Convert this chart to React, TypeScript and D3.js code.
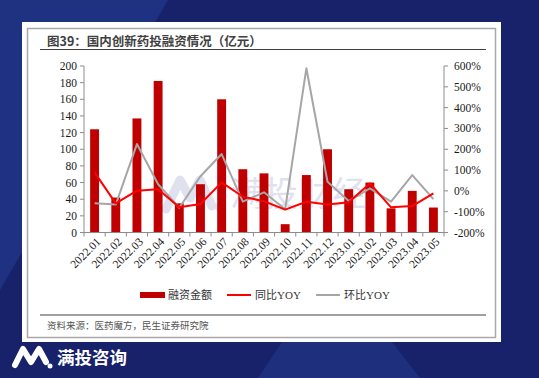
import { useMemo } from "react";
import * as d3 from "d3";

// 国内创新药投融资情况（亿元）
const months = [
  "2022.01", "2022.02", "2022.03", "2022.04", "2022.05", "2022.06",
  "2022.07", "2022.08", "2022.09", "2022.10", "2022.11", "2022.12",
  "2023.01", "2023.02", "2023.03", "2023.04", "2023.05",
];
const amount = [124, 42, 137, 182, 35, 58, 160, 76, 71, 10, 69, 100, 52, 60, 29, 50, 30];
const yoy = [89, -60, 1, 8, -79, -63, 41, -28, -50, -90, -52, -65, -55, 36, -79, -73, -12];
const mom = [-60, -66, 225, 32, -81, 70, 177, -52, -7, -88, 589, 44, -49, 12, -52, 76, -40];

const leftTicks = [0, 20, 40, 60, 80, 100, 120, 140, 160, 180, 200];
const rightTicks = [-200, -100, 0, 100, 200, 300, 400, 500, 600];

const W = 539;
const H = 378;
const plot = { left: 84, right: 444, top: 66, bottom: 232.5 };

const serif = "'Liberation Serif', 'Times New Roman', serif";
const cjk = "'Noto Sans CJK SC', 'Noto Sans', sans-serif";
const axisColor = "#8c8c8c";

export default function App() {
  const x = useMemo(
    () => d3.scaleBand<string>().domain(months).range([plot.left, plot.right]).paddingInner(0.58).paddingOuter(0.29),
    []
  );
  const band = useMemo(
    () => d3.scaleBand<string>().domain(months).range([plot.left, plot.right]),
    []
  );
  const yL = d3.scaleLinear().domain([0, 200]).range([plot.bottom, plot.top]);
  const yR = d3.scaleLinear().domain([-200, 600]).range([plot.bottom, plot.top]);

  const cx = (m: string) => (band(m) ?? 0) + band.bandwidth() / 2;
  const line = d3
    .line<number>()
    .x((_, i) => cx(months[i]))
    .y((d) => yR(d));

  // boundaries between categories for x ticks
  const xTicks = d3.range(months.length + 1).map((i) => plot.left + i * band.step());

  return (
    <svg
      width={W}
      height={H}
      style={{ position: "absolute", left: 0, top: 0, display: "block" }}
    >
      {/* background */}
      <rect x={0} y={0} width={W} height={H} fill="#17226a" />
      <polygon points="0,0 168,0 0,290" fill="#1f3282" />
      <polygon points="282,342 392,342 420,378 258,378" fill="#1e2f7e" />

      {/* card */}
      <rect x={22} y={22} width={479} height={320} fill="#ffffff" />
      <rect x={27.5} y={28.5} width={468} height={309} fill="none" stroke="#a8a8a8" strokeWidth={1.5} />

      {/* title */}
      <text x={47} y={46} fontFamily={cjk} fontSize={12.5} fontWeight="bold" fill="#404040">
        图39：国内创新药投融资情况（亿元）
      </text>
      <line x1={40} x2={486} y1={49.5} y2={49.5} stroke="#404040" strokeWidth={1.2} />

      {/* watermark */}
      <g opacity={0.5} fill="#c3c5e0">
        <path
          d="M166,209 L180,180 L190,198 L200,180 L212,206"
          fill="none"
          stroke="#c3c5e0"
          strokeWidth={9}
          strokeLinecap="round"
          strokeLinejoin="round"
        />
        <circle cx={219} cy={207} r={4} />
        <text x={230} y={206} fontFamily={cjk} fontSize={34}>
          满投财经
        </text>
      </g>

      {/* bars */}
      {months.map((m, i) => (
        <rect
          key={m}
          x={x(m)}
          y={yL(amount[i])}
          width={x.bandwidth()}
          height={plot.bottom - yL(amount[i])}
          fill="#c00000"
        />
      ))}

      {/* lines */}
      <path d={line(mom) ?? ""} fill="none" stroke="#a6a6a6" strokeWidth={2} strokeLinejoin="round" />
      <path d={line(yoy) ?? ""} fill="none" stroke="#ff0000" strokeWidth={2} strokeLinejoin="round" />

      {/* left axis */}
      <line x1={plot.left} x2={plot.left} y1={plot.top} y2={plot.bottom} stroke={axisColor} />
      {leftTicks.map((t) => (
        <g key={t}>
          <line x1={plot.left - 4} x2={plot.left} y1={yL(t)} y2={yL(t)} stroke={axisColor} />
          <text
            x={plot.left - 7}
            y={yL(t)}
            dy="0.35em"
            textAnchor="end"
            fontFamily={serif}
            fontSize={11.5}
            fill="#1a1a1a"
          >
            {t}
          </text>
        </g>
      ))}

      {/* right axis */}
      <line x1={plot.right} x2={plot.right} y1={plot.top} y2={plot.bottom} stroke={axisColor} />
      {rightTicks.map((t) => (
        <g key={t}>
          <line x1={plot.right} x2={plot.right + 4} y1={yR(t)} y2={yR(t)} stroke={axisColor} />
          <text
            x={plot.right + 10}
            y={yR(t)}
            dy="0.35em"
            fontFamily={serif}
            fontSize={11.5}
            fill="#1a1a1a"
          >
            {t}%
          </text>
        </g>
      ))}

      {/* x axis */}
      <line x1={plot.left} x2={plot.right} y1={plot.bottom} y2={plot.bottom} stroke={axisColor} />
      {xTicks.map((t, i) => (
        <line key={i} x1={t} x2={t} y1={plot.bottom} y2={plot.bottom + 4} stroke={axisColor} />
      ))}
      {months.map((m) => (
        <text
          key={m}
          transform={`translate(${cx(m) + 4},${plot.bottom + 7}) rotate(-45)`}
          textAnchor="end"
          dy="0.35em"
          fontFamily={serif}
          fontSize={11.5}
          fill="#1a1a1a"
        >
          {m}
        </text>
      ))}

      {/* legend */}
      <g fontFamily={cjk} fontSize={11} fill="#333">
        <rect x={140} y={292} width={25} height={6} fill="#c00000" />
        <text x={168} y={295} dy="0.35em">融资金额</text>
        <line x1={227} x2={251} y1={295} y2={295} stroke="#ff0000" strokeWidth={2} />
        <text x={255} y={295} dy="0.35em">
          同比<tspan fontFamily={serif}>YOY</tspan>
        </text>
        <line x1={316} x2={340} y1={295} y2={295} stroke="#a6a6a6" strokeWidth={2} />
        <text x={344} y={295} dy="0.35em">
          环比<tspan fontFamily={serif}>YOY</tspan>
        </text>
      </g>

      {/* source */}
      <line x1={40} x2={486} y1={315} y2={315} stroke="#404040" strokeWidth={1.2} />
      <text x={47} y={329} fontFamily={cjk} fontSize={9.5} fill="#555">
        资料来源：医药魔方，民生证券研究院
      </text>

      {/* brand */}
      <path
        d="M15,365 L23,349 L31,362 L39,349 L46,362"
        fill="none"
        stroke="#ffffff"
        strokeWidth={6}
        strokeLinecap="round"
        strokeLinejoin="round"
      />
      <circle cx={50} cy={366} r={2.5} fill="#ffffff" />
      <text x={57} y={364} fontFamily={cjk} fontSize={17.5} fontWeight="bold" fill="#ffffff">
        满投咨询
      </text>
    </svg>
  );
}
